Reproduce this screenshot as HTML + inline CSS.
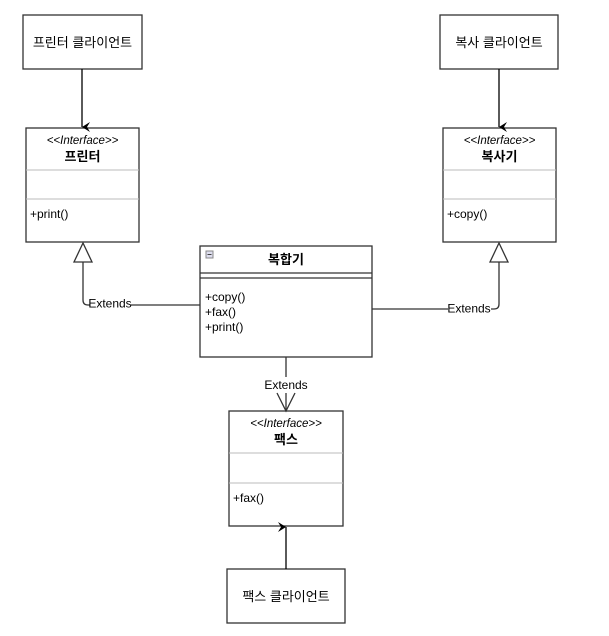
<!DOCTYPE html>
<html><head><meta charset="utf-8"><style>
html,body{margin:0;padding:0;background:#fff;}
svg{display:block;}
text{font-family:"Liberation Sans","Noto Sans CJK KR",sans-serif;fill:#000;}
</style></head><body>
<svg width="609" height="636" viewBox="0 0 609 636" xmlns="http://www.w3.org/2000/svg">
<defs>
<marker id="fa" markerWidth="10" markerHeight="10" refX="5" refY="8" orient="auto-start-reverse" markerUnits="userSpaceOnUse"><path d="M0,0 L5,8 L10,0 L5,3 Z" fill="#000"/></marker>
</defs>
<g fill="#fff" stroke="#333" stroke-width="1.3">
<!-- clients -->
<rect x="23" y="15" width="119" height="54"/>
<rect x="440" y="15" width="118" height="54"/>
<rect x="227" y="569" width="118" height="54"/>
<!-- interfaces -->
<rect x="26" y="128" width="113" height="114"/>
<rect x="443" y="128" width="113" height="114"/>
<rect x="229" y="411" width="114" height="115"/>
<!-- combined -->
<rect x="200" y="246" width="172" height="111"/>
</g>
<g stroke="#bbb" stroke-width="1">
<line x1="26" y1="170" x2="139" y2="170"/><line x1="26" y1="199" x2="139" y2="199"/>
<line x1="443" y1="170" x2="556" y2="170"/><line x1="443" y1="199" x2="556" y2="199"/>
<line x1="229" y1="453" x2="343" y2="453"/><line x1="229" y1="483" x2="343" y2="483"/>
</g>
<g stroke="#333" stroke-width="1.3">
<line x1="200" y1="273" x2="372" y2="273"/><line x1="200" y1="278" x2="372" y2="278"/>
</g>
<rect x="206" y="251" width="7" height="7" fill="#dde" stroke="#888" stroke-width="1"/>
<line x1="207.5" y1="254.5" x2="211.5" y2="254.5" stroke="#444" stroke-width="1"/>
<!-- client arrows -->
<g stroke="#000" stroke-width="1.3" fill="none">
<line x1="82" y1="69" x2="82" y2="127" marker-end="url(#fa)"/>
<line x1="499" y1="69" x2="499" y2="127" marker-end="url(#fa)"/>
<line x1="286" y1="569" x2="286" y2="527" marker-end="url(#fa)"/>
</g>
<!-- extends connectors -->
<g stroke="#333" stroke-width="1.3" fill="none">
<path d="M83,262 L83,300 Q83,305 88,305 L90,305"/>
<path d="M131,305 L200,305"/>
<path d="M372,309 L448,309"/>
<path d="M491,309 L494,309 Q499,309 499,304 L499,262"/>
<path d="M286,357 L286,377"/>
<path d="M286,393 L286,411"/>
<polygon points="83,243 74,262 92,262" fill="#fff"/>
<polygon points="499,243 490,262 508,262" fill="#fff"/>
<path d="M277,393 L286,411 L295,393"/>
</g>
<g font-size="12">
<text x="110" y="307.5" text-anchor="middle">Extends</text>
<text x="469" y="312.5" text-anchor="middle">Extends</text>
<text x="286" y="389" text-anchor="middle">Extends</text>
</g>
<!-- client labels -->
<g font-size="13" text-anchor="middle">
<text x="82.5" y="47">프린터 클라이언트</text>
<text x="499" y="47">복사 클라이언트</text>
<text x="286" y="601">팩스 클라이언트</text>
</g>
<!-- interface headers -->
<g font-size="11.5" text-anchor="middle" font-style="italic">
<text x="82.5" y="144">&lt;&lt;Interface&gt;&gt;</text>
<text x="499.5" y="144">&lt;&lt;Interface&gt;&gt;</text>
<text x="286" y="427">&lt;&lt;Interface&gt;&gt;</text>
</g>
<g font-size="13" font-weight="bold" text-anchor="middle">
<text x="82.5" y="161">프린터</text>
<text x="499.5" y="161">복사기</text>
<text x="286" y="444">팩스</text>
<text x="286" y="264">복합기</text>
</g>
<g font-size="12">
<text x="30" y="218">+print()</text>
<text x="447" y="218">+copy()</text>
<text x="233" y="502">+fax()</text>
<text x="205" y="301">+copy()</text>
<text x="205" y="316">+fax()</text>
<text x="205" y="331">+print()</text>
</g>
</svg>
</body></html>
